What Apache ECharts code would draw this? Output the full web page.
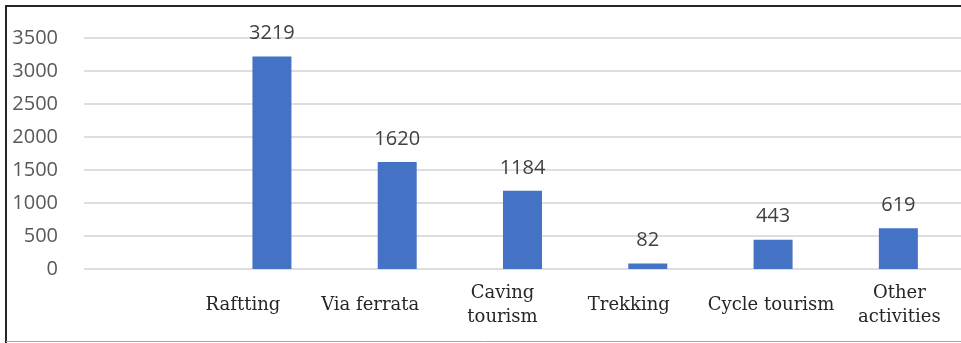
<!DOCTYPE html>
<html>
<head>
<meta charset="utf-8">
<script src="https://cdn.jsdelivr.net/npm/echarts@6/dist/echarts.min.js"></script>
<style>
  html, body { margin: 0; padding: 0; background: #ffffff; }
  #chart { width: 961px; height: 343px; }
</style>
</head>
<body>
<div id="chart"></div>
<script>
// ---- data ----
const categories = ['', 'Raftting', 'Via ferrata', 'Caving\ntourism', 'Trekking', 'Cycle tourism', 'Other\nactivities'];
const values = [null, 3219, 1620, 1184, 82, 443, 619];
const yMin = 0;
const yMax = 3500;
const yInterval = 500;

// ---- styling ----
const labelShift = [0, -29, -27, -20, -19, -2, 1];
const rich = {};
labelShift.forEach(function (s, i) {
  rich['s' + i] = {
    fontFamily: 'DejaVu Serif',
    fontSize: 18,
    color: '#262626',
    lineHeight: 24,
    padding: s < 0 ? [0, -2 * s, 0, 0] : [0, 0, 0, 2 * s]
  };
});

const chart = echarts.init(document.getElementById('chart'), null, { renderer: 'canvas' });
chart.setOption({
  animation: false,
  backgroundColor: '#ffffff',
  grid: { left: 84, top: 38, width: 885, height: 231, containLabel: false },
  xAxis: {
    type: 'category',
    data: categories,
    axisLine: { show: false },
    axisTick: { show: false },
    splitLine: { show: false },
    axisLabel: {
      interval: 0,
      margin: 36,
      verticalAlign: 'middle',
      formatter: function (v, i) {
        if (!v) return '';
        return v.split('\n').map(function (line) { return '{s' + i + '|' + line + '}'; }).join('\n');
      },
      rich: rich
    }
  },
  yAxis: {
    type: 'value',
    min: yMin,
    max: yMax,
    interval: yInterval,
    axisLine: { show: false },
    axisTick: { show: false },
    axisLabel: {
      margin: 26,
      fontFamily: 'Open Sans',
      fontSize: 20,
      color: '#595959',
      formatter: function (v) { return String(v); }
    },
    splitLine: { lineStyle: { color: '#dedede', width: 2 } }
  },
  series: [{
    type: 'bar',
    data: values,
    barWidth: 39,
    itemStyle: { color: '#4472C4' },
    label: {
      show: true,
      position: 'top',
      distance: 13,
      fontFamily: 'Open Sans',
      fontSize: 20,
      color: '#404040'
    }
  }],
  graphic: [
    { type: 'line', shape: { x1: 5, y1: 6, x2: 961, y2: 6 }, style: { stroke: '#262626', lineWidth: 2 }, silent: true },
    { type: 'line', shape: { x1: 6, y1: 5, x2: 6, y2: 343 }, style: { stroke: '#262626', lineWidth: 2 }, silent: true },
    { type: 'line', shape: { x1: 6, y1: 341.5, x2: 961, y2: 341.5 }, style: { stroke: '#a6a6a6', lineWidth: 1 }, silent: true }
  ]
});
</script>
</body>
</html>
